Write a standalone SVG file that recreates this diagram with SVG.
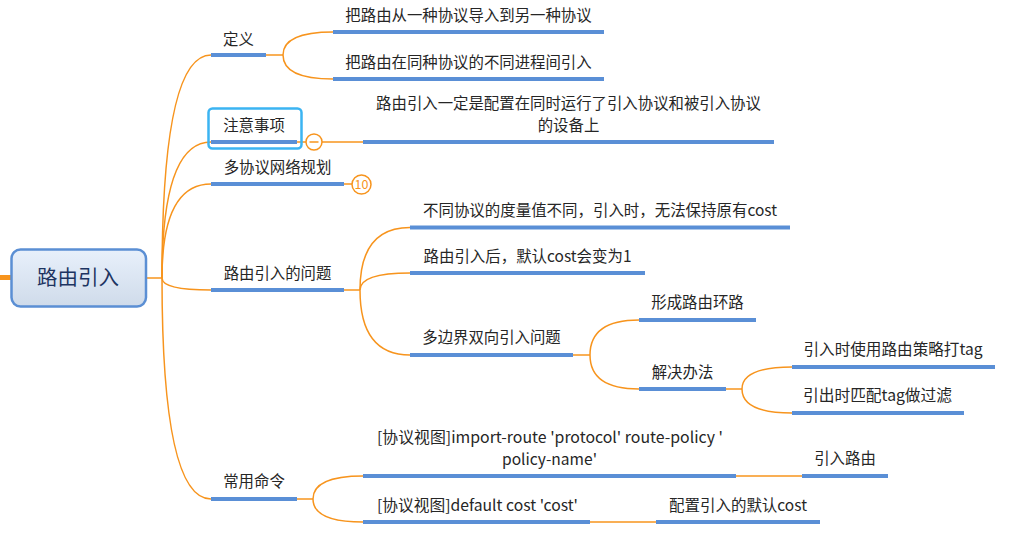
<svg xmlns="http://www.w3.org/2000/svg" width="1024" height="541" viewBox="0 0 1024 541">
<defs>
<linearGradient id="rootg" x1="0" y1="0" x2="0" y2="1">
<stop offset="0" stop-color="#e8f0fb"/>
<stop offset="1" stop-color="#cfdbea"/>
</linearGradient>
<style>
.t{font-family:"Noto Sans CJK SC","Microsoft YaHei",sans-serif;font-size:15.4px;fill:#262626;text-anchor:middle}
.u{stroke:#5a8fd6;stroke-width:4;fill:none}
.c{stroke:#f7941d;stroke-width:1.5;fill:none}
.o{stroke:#f7941d;stroke-width:1.5;fill:#fff}
</style>
</defs>
<rect width="1024" height="541" fill="#fff"/>

<g id="connectors">
<line x1="0" y1="277.5" x2="12" y2="277.5" stroke="#f7941d" stroke-width="5"/>
<path class="c" d="M146 278 H162"/>
<path class="c" d="M162 278 Q162 55 211 55"/>
<path class="c" d="M162 278 Q162 142 211 142"/>
<path class="c" d="M162 278 Q162 184 211 184"/>
<path class="c" d="M162 278 Q162 290 211 290"/>
<path class="c" d="M162 278 Q162 499 211 499"/>
<path class="c" d="M266 55 H283"/>
<path class="c" d="M283 55 Q283 32 333 32"/>
<path class="c" d="M283 55 Q283 79 333 79"/>
<path class="c" d="M297 142 H306"/>
<path class="c" d="M322 142 H363"/>
<path class="c" d="M344 184 H352"/>
<path class="c" d="M344 290 H360"/>
<path class="c" d="M360 290 Q360 227.5 410 227.5"/>
<path class="c" d="M360 290 Q360 273 410 273"/>
<path class="c" d="M360 290 Q360 355 410 355"/>
<path class="c" d="M573 355 H590"/>
<path class="c" d="M590 355 Q590 320 639 320"/>
<path class="c" d="M590 355 Q590 389 639 389"/>
<path class="c" d="M726 389 H742"/>
<path class="c" d="M742 389 Q742 367 792 367"/>
<path class="c" d="M742 389 Q742 413 792 413"/>
<path class="c" d="M297 499 H313"/>
<path class="c" d="M313 499 Q313 476 363 476"/>
<path class="c" d="M313 499 Q313 522 363 522"/>
<path class="c" d="M736 476 H802"/>
<path class="c" d="M590 522 H656"/>
</g>

<g id="root">
<rect x="11.5" y="249.5" width="134.5" height="57" rx="9" fill="url(#rootg)" stroke="#5b8fd4" stroke-width="2.5"/>
<text x="78" y="284.5" class="t" style="font-size:20.5px;fill:#1d3461">路由引入</text>
</g>

<g id="n-dingyi">
<line class="u" x1="211" y1="55" x2="266" y2="55"/>
<text x="238.5" y="45" class="t">定义</text>
</g>
<g id="n-def1">
<line class="u" x1="333" y1="32" x2="604" y2="32"/>
<text x="468.5" y="21" class="t">把路由从一种协议导入到另一种协议</text>
</g>
<g id="n-def2">
<line class="u" x1="333" y1="79" x2="604" y2="79"/>
<text x="468.5" y="68" class="t">把路由在同种协议的不同进程间引入</text>
</g>

<g id="n-zhuyi">
<rect x="208.5" y="108.5" width="93" height="40" rx="4" fill="none" stroke="#3bb4f2" stroke-width="2.5"/>
<line class="u" x1="211" y1="142" x2="297" y2="142"/>
<text x="254" y="131" class="t">注意事项</text>
<circle class="o" cx="314" cy="142" r="8"/>
<line x1="309.5" y1="142" x2="318.5" y2="142" stroke="#f7941d" stroke-width="1.5"/>
</g>
<g id="n-zhuyi1">
<line class="u" x1="363" y1="142" x2="774" y2="142"/>
<text x="568.5" y="108.5" class="t">路由引入一定是配置在同时运行了引入协议和被引入协议</text>
<text x="568.5" y="130.5" class="t">的设备上</text>
</g>

<g id="n-duoxieyi">
<line class="u" x1="211" y1="184" x2="344" y2="184"/>
<text x="277.5" y="173" class="t">多协议网络规划</text>
<circle class="o" cx="361.5" cy="184.5" r="9.5"/>
<text x="361.5" y="189" class="t" style="font-size:12.5px;fill:#f7941d">10</text>
</g>

<g id="n-wenti">
<line class="u" x1="211" y1="290" x2="344" y2="290"/>
<text x="277.5" y="279" class="t">路由引入的问题</text>
</g>
<g id="n-wenti1">
<line class="u" x1="410" y1="227.5" x2="790" y2="227.5"/>
<text x="600" y="216" class="t" textLength="354" lengthAdjust="spacingAndGlyphs">不同协议的度量值不同，引入时，无法保持原有cost</text>
</g>
<g id="n-wenti2">
<line class="u" x1="410" y1="273" x2="645" y2="273"/>
<text x="527.5" y="262" class="t" textLength="208" lengthAdjust="spacingAndGlyphs">路由引入后，默认cost会变为1</text>
</g>
<g id="n-wenti3">
<line class="u" x1="410" y1="355" x2="573" y2="355"/>
<text x="491.5" y="343" class="t">多边界双向引入问题</text>
</g>
<g id="n-huanlu">
<line class="u" x1="639" y1="320" x2="756" y2="320"/>
<text x="697.5" y="308" class="t">形成路由环路</text>
</g>
<g id="n-jiejue">
<line class="u" x1="639" y1="389" x2="726" y2="389"/>
<text x="682.5" y="378" class="t">解决办法</text>
</g>
<g id="n-jiejue1">
<line class="u" x1="792" y1="367" x2="995" y2="367"/>
<text x="893" y="355" class="t" textLength="179" lengthAdjust="spacingAndGlyphs">引入时使用路由策略打tag</text>
</g>
<g id="n-jiejue2">
<line class="u" x1="792" y1="413" x2="964" y2="413"/>
<text x="877.5" y="401" class="t" textLength="149" lengthAdjust="spacingAndGlyphs">引出时匹配tag做过滤</text>
</g>

<g id="n-mingling">
<line class="u" x1="211" y1="499" x2="297" y2="499"/>
<text x="254" y="487" class="t">常用命令</text>
</g>
<g id="n-cmd1">
<line class="u" x1="363" y1="476" x2="736" y2="476"/>
<text x="550" y="442.5" class="t" textLength="346" lengthAdjust="spacingAndGlyphs">[协议视图]import-route 'protocol' route-policy '</text>
<text x="549.5" y="464.5" class="t" textLength="95" lengthAdjust="spacingAndGlyphs">policy-name'</text>
</g>
<g id="n-cmd1a">
<line class="u" x1="802" y1="476" x2="888" y2="476"/>
<text x="845" y="464" class="t">引入路由</text>
</g>
<g id="n-cmd2">
<line class="u" x1="363" y1="522" x2="590" y2="522"/>
<text x="477.5" y="510.5" class="t" textLength="201" lengthAdjust="spacingAndGlyphs">[协议视图]default cost 'cost'</text>
</g>
<g id="n-cmd2a">
<line class="u" x1="656" y1="522" x2="820" y2="522"/>
<text x="738" y="510.5" class="t" textLength="138" lengthAdjust="spacingAndGlyphs">配置引入的默认cost</text>
</g>
</svg>
